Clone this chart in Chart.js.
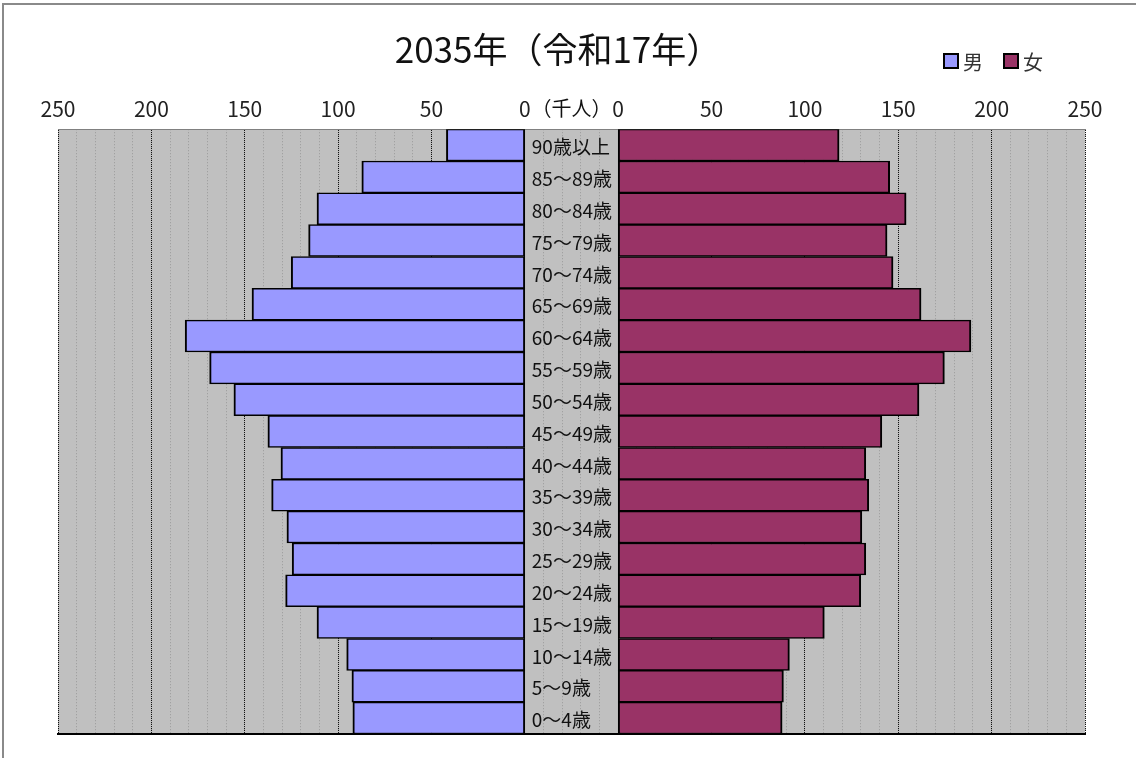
<!DOCTYPE html>
<html lang="ja">
<head>
<meta charset="utf-8">
<title>2035年（令和17年）</title>
<script src="https://cdn.jsdelivr.net/npm/chart.js@4.4.1/dist/chart.umd.min.js"></script>
<style>
  html, body { margin: 0; padding: 0; background: #fff; }
  #wrap { width: 1136px; height: 758px; position: relative; }
</style>
</head>
<body>
<div id="wrap"><canvas id="pyramid"></canvas></div>
<script>
// 年齢階級（下から上へ）
const ageGroups = [
    '0～4歳', '5～9歳', '10～14歳', '15～19歳', '20～24歳', '25～29歳',
    '30～34歳', '35～39歳', '40～44歳', '45～49歳', '50～54歳', '55～59歳',
    '60～64歳', '65～69歳', '70～74歳', '75～79歳', '80～84歳', '85～89歳', '90歳以上'
];

// 人口（千人）
const male = [
    92.1, 92.6, 95.4, 111.3, 128.1, 124.6,
    127.4, 135.6, 130.6, 137.6, 155.8, 168.8,
    181.9, 146.1, 125.1, 115.8, 111.3, 87.3, 42.0
];
const female = [
    87.8, 88.5, 91.7, 110.4, 129.9, 132.6,
    130.5, 134.2, 132.6, 141.2, 161.1, 174.7,
    188.9, 162.2, 147.2, 144.0, 154.2, 145.4, 118.3
];

// 目盛り（千人）
const tickValues = [0, 50, 100, 150, 200, 250];
const minorStep = 10;

const titleText = '2035年（令和17年）';
const unitText = '（千人）';

// 中央のラベル欄の半分の幅（軸の単位）
const gap = 25;
const axisEnd = tickValues[tickValues.length - 1] + gap;

const numFont = "'Liberation Sans Narrow', 'Noto Sans CJK JP', sans-serif";

// 背景・タイトル・凡例・年齢ラベル
const pyramidDecor = {
    id: 'pyramidDecor',
    beforeDraw(chart) {
        const { ctx, chartArea: a } = chart;
        ctx.save();
        ctx.fillStyle = '#c0c0c0';
        ctx.fillRect(a.left, a.top, a.right - a.left, a.bottom - a.top);
        ctx.strokeStyle = '#8a8a8a';
        ctx.lineWidth = 2;
        ctx.strokeRect(3, 4, chart.width + 20, chart.height + 20);
        ctx.restore();
    },
    afterDatasetsDraw(chart) {
        const { ctx, chartArea: a } = chart;
        const xs = chart.scales.x;
        const ys = chart.scales.y;
        ctx.save();

        // 年齢階級
        ctx.fillStyle = '#111';
        ctx.font = '19px ' + numFont;
        ctx.textAlign = 'left';
        ctx.textBaseline = 'middle';
        ageGroups.forEach((label, i) => {
            ctx.fillText(label, xs.getPixelForValue(-gap) + 7, ys.getPixelForValue(i) + 2);
        });

        // 単位
        ctx.font = '20px ' + numFont;
        ctx.textAlign = 'center';
        ctx.fillText(unitText, xs.getPixelForValue(0), a.top - 21);

        // タイトル
        ctx.font = '35px ' + numFont;
        ctx.fillText(titleText, 558, 50);

        // 凡例
        ctx.font = '20px ' + numFont;
        ctx.textAlign = 'left';
        chart.data.datasets.forEach((ds, i) => {
            const bx = 944 + i * 60;
            ctx.fillStyle = ds.backgroundColor;
            ctx.fillRect(bx, 54, 14, 14);
            ctx.strokeStyle = '#000';
            ctx.lineWidth = 2;
            ctx.strokeRect(bx, 54, 14, 14);
            ctx.fillStyle = '#333';
            ctx.fillText(ds.label, bx + 19, 62);
        });

        ctx.restore();
    }
};

const barBorder = { top: 1.5, bottom: 1.5, left: 2, right: 2 };

const ctx = document.getElementById('pyramid').getContext('2d');
window.myChart = new Chart(ctx, {
    type: 'bar',
    data: {
        labels: ageGroups,
        datasets: [{
            label: '男',
            data: male.map(v => [-gap - v, -gap]),
            backgroundColor: '#9999ff',
            borderColor: '#000',
            borderWidth: barBorder,
            borderSkipped: false
        }, {
            label: '女',
            data: female.map(v => [gap, gap + v]),
            backgroundColor: '#993366',
            borderColor: '#000',
            borderWidth: barBorder,
            borderSkipped: false
        }]
    },
    options: {
        indexAxis: 'y',
        responsive: true,
        maintainAspectRatio: false,
        animation: false,
        grouped: false,
        barPercentage: 1,
        categoryPercentage: 1,
        layout: {
            padding: { left: 58, right: 51, top: 88, bottom: 24 }
        },
        plugins: {
            legend: { display: false },
            title: { display: false },
            tooltip: { enabled: false }
        },
        scales: {
            y: {
                display: false,
                reverse: true
            },
            // 主目盛り（50千人ごと）
            x: {
                position: 'top',
                min: -axisEnd,
                max: axisEnd,
                afterBuildTicks: scale => {
                    const left = tickValues.map(v => ({ value: -gap - v })).reverse();
                    const right = tickValues.map(v => ({ value: gap + v }));
                    scale.ticks = left.concat(right);
                },
                grid: {
                    color: '#111',
                    lineWidth: 1,
                    drawTicks: false,
                    z: -1
                },
                border: { display: true, color: '#808080', width: 1, dash: [1, 1] },
                ticks: {
                    autoSkip: false,
                    maxRotation: 0,
                    padding: 8,
                    color: '#222',
                    font: { family: numFont, size: 21 },
                    callback: v => Math.abs(v) - gap
                }
            },
            // 補助目盛り（10千人ごと）
            x2: {
                type: 'linear',
                axis: 'x',
                position: 'bottom',
                min: -axisEnd,
                max: axisEnd,
                ticks: { display: false, stepSize: minorStep },
                grid: {
                    color: '#9a9a9a',
                    lineWidth: 1,
                    drawTicks: false,
                    z: -2
                },
                border: { display: true, color: '#000', width: 2, dash: [1, 2] }
            }
        }
    },
    plugins: [pyramidDecor]
});
</script>
</body>
</html>
